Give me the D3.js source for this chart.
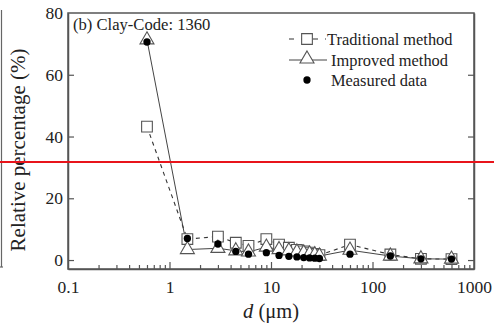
<!DOCTYPE html>
<html>
<head>
<meta charset="utf-8">
<script src="https://cdn.jsdelivr.net/npm/d3@7"></script>
<style>
  html, body { margin: 0; padding: 0; background: #fff; }
  svg { display: block; font-family: "Liberation Serif", "Times New Roman", serif; }
</style>
</head>
<body>
<svg id="chart" width="494" height="328"></svg>
<script>
// Particle size (μm)
const sizes = [0.6, 1.5, 3, 4.5, 6, 9, 12, 15, 18, 21, 24, 27, 30, 60, 150, 300, 600];
// Relative percentage (%) per size
const traditional = [43.2, 6.8, 7.6, 5.6, 4.6, 6.8, 5.0, 4.0, 3.3, 2.8, 2.4, 2.0, 1.6, 5.0, 1.8, 0.4, 0.3];
const improved    = [71.3, 3.4, 3.8, 3.0, 2.6, 4.2, 3.4, 3.0, 2.6, 2.3, 2.0, 1.7, 1.3, 3.2, 1.3, 0.4, 0.3];
const measured    = [70.6, 7.0, 5.2, 2.8, 1.9, 2.4, 1.5, 1.2, 1.0, 0.8, 0.7, 0.6, 0.5, 1.9, 1.3, 0.4, 0.3];
// Axis ticks
const xTicks = [0.1, 1, 10, 100, 1000];
const xTickLabels = ["0.1", "1", "10", "100", "1000"];
const yTicks = [0, 20, 40, 60, 80];
const legendLabels = ["Traditional method", "Improved method", "Measured data"];
const panelTitle = "(b) Clay-Code: 1360";

const svg = d3.select("#chart");
const L = 68, R = 474, T = 13, B = 269;
const axisColor = "#555";
const textColor = "#222";

const x = d3.scaleLog().domain([0.1, 1000]).range([L, R]);
const y = d3.scaleLinear().domain([-2.9, 80]).range([B, T]);

// Edge of the neighbouring panel
svg.append("line").attr("x1", 1.5).attr("x2", 1.5).attr("y1", 10).attr("y2", 267)
  .attr("stroke", "#666").attr("stroke-width", 1.2);
svg.append("line").attr("x1", 0).attr("x2", 3).attr("y1", 267).attr("y2", 267)
  .attr("stroke", "#666").attr("stroke-width", 1.2);

// Minor ticks on the log axis
const minor = [];
for (let e = -1; e < 3; e++) for (let k = 2; k <= 9; k++) minor.push(k * Math.pow(10, e));

const gx = svg.append("g").attr("transform", `translate(0,${B})`);
gx.call(d3.axisBottom(x).tickValues(xTicks).tickFormat((d, i) => xTickLabels[i])
  .tickSizeInner(-7).tickSizeOuter(0).tickPadding(12));
gx.selectAll(".tick").filter(d => d === 0.1 || d === 1000).select("line").remove();
const gxm = svg.append("g").attr("transform", `translate(0,${B})`);
gxm.call(d3.axisBottom(x).tickValues(minor).tickFormat("").tickSizeInner(-4).tickSizeOuter(0));
gxm.select(".domain").remove();

const gy = svg.append("g").attr("transform", `translate(${L},0)`);
gy.call(d3.axisLeft(y).tickValues(yTicks).tickSizeInner(-6).tickSizeOuter(0).tickPadding(5));
gy.selectAll(".tick").filter(d => d === 80).select("line").remove();
const gyr = svg.append("g").attr("transform", `translate(${R},0)`);
gyr.call(d3.axisRight(y).tickValues(yTicks.filter(d => d !== 80)).tickFormat("").tickSizeInner(-6).tickSizeOuter(0));

[gx, gxm, gy, gyr].forEach(g => {
  g.selectAll("line").attr("stroke", axisColor).attr("stroke-width", 1.2);
  g.selectAll(".domain").attr("stroke", axisColor).attr("stroke-width", 1.5);
  g.selectAll("text").attr("fill", textColor).attr("font-size", 17.5)
    .attr("font-family", '"Liberation Serif", "Times New Roman", serif');
});
// Frame
svg.append("rect").attr("x", L).attr("y", T).attr("width", R - L).attr("height", B - T)
  .attr("fill", "none").attr("stroke", axisColor).attr("stroke-width", 1.5);

// Axis titles
svg.append("text").attr("transform", "translate(25,150) rotate(-90)")
  .attr("text-anchor", "middle").attr("font-size", 21).attr("fill", textColor)
  .text("Relative percentage (%)");
const xt = svg.append("text").attr("x", 271).attr("y", 318).attr("text-anchor", "middle")
  .attr("font-size", 20.5).attr("fill", textColor);
xt.append("tspan").attr("font-style", "italic").text("d");
xt.append("tspan").text(" (μm)");

svg.append("text").attr("x", 73).attr("y", 30).attr("font-size", 16.6).attr("fill", textColor).text(panelTitle);

const pts = (vals) => sizes.map((d, i) => [x(d), y(vals[i])]);
const line = d3.line();

// Series lines
svg.append("path").attr("d", line(pts(traditional))).attr("fill", "none")
  .attr("stroke", "#333").attr("stroke-width", 1.1).attr("stroke-dasharray", "4,4");
svg.append("path").attr("d", line(pts(improved))).attr("fill", "none")
  .attr("stroke", "#444").attr("stroke-width", 1);

const sq = d3.symbol().type(d3.symbolSquare).size(115);
const tri = d3.symbol().type(d3.symbolTriangle).size(85);
const dot = d3.symbol().type(d3.symbolCircle).size(42);

svg.append("g").selectAll("path").data(pts(traditional)).join("path")
  .attr("d", sq).attr("transform", d => `translate(${d[0]},${d[1]})`)
  .attr("fill", "#fff").attr("stroke", "#555").attr("stroke-width", 1.1);
svg.append("g").selectAll("path").data(pts(improved)).join("path")
  .attr("d", tri).attr("transform", d => `translate(${d[0]},${d[1]})`)
  .attr("fill", "#fff").attr("stroke", "#555").attr("stroke-width", 1.1);
svg.append("g").selectAll("path").data(pts(measured)).join("path")
  .attr("d", dot).attr("transform", d => `translate(${d[0]},${d[1]})`)
  .attr("fill", "#000");

// Legend
const lg = svg.append("g");
const lx0 = 289, lx1 = 326, lxm = 307;
lg.append("line").attr("x1", lx0).attr("x2", lx1).attr("y1", 39).attr("y2", 39)
  .attr("stroke", "#333").attr("stroke-width", 1.1).attr("stroke-dasharray", "5,7");
lg.append("path").attr("d", sq).attr("transform", `translate(${lxm},39)`)
  .attr("fill", "#fff").attr("stroke", "#555").attr("stroke-width", 1.1);
lg.append("line").attr("x1", lx0).attr("x2", lx1 + 1).attr("y1", 60).attr("y2", 60)
  .attr("stroke", "#444").attr("stroke-width", 1);
lg.append("path").attr("d", tri).attr("transform", `translate(${lxm},59)`)
  .attr("fill", "#fff").attr("stroke", "#555").attr("stroke-width", 1.1);
lg.append("path").attr("d", dot).attr("transform", `translate(${lxm},80)`).attr("fill", "#000");
[[327, 45], [331, 66], [331, 86]].forEach((p, i) => {
  lg.append("text").attr("x", p[0]).attr("y", p[1]).attr("font-size", 16.4).attr("fill", textColor)
    .text(legendLabels[i]);
});

// Red reference line
svg.append("line").attr("x1", 0).attr("x2", 494).attr("y1", 162).attr("y2", 162)
  .attr("stroke", "#e8141b").attr("stroke-width", 2);
</script>
</body>
</html>
